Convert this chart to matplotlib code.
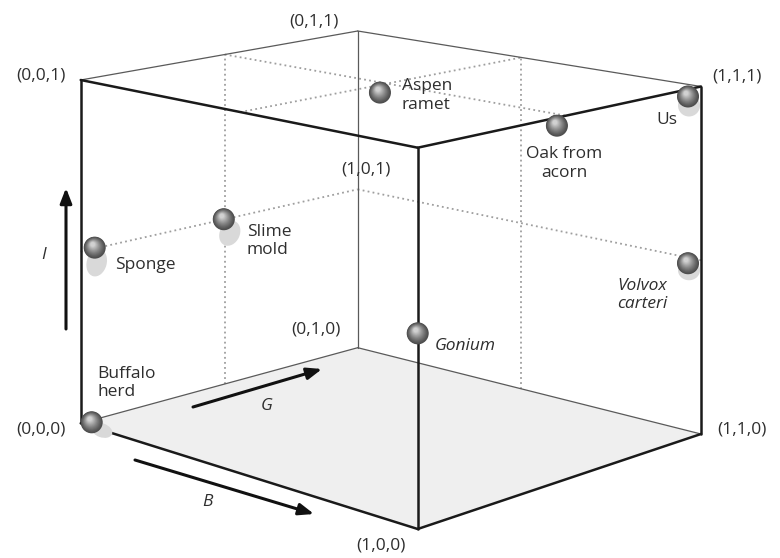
import matplotlib
matplotlib.use("Agg")
import matplotlib.pyplot as plt
from matplotlib.patches import Circle, Ellipse, Polygon

plt.rcParams['font.family'] = ['Open Sans', 'DejaVu Sans']

# organisms placed in the (B, G, I) cube
names = ['Buffalo\nherd', 'Sponge', 'Slime\nmold', 'Aspen\nramet',
         'Oak from\nacorn', 'Us', 'Volvox\ncarteri', 'Gonium']
B = [0, 0, 0, 0.5, 1, 1, 1, 1]
G = [0, 0, 0.5, 0.5, 0.5, 1, 1, 0]
I = [0, 0.5, 0.5, 1, 1, 1, 0.5, 0.5]
italic = [False, False, False, False, False, False, True, True]

# corner labels
corners = [(0, 0, 1), (0, 1, 1), (1, 0, 1), (1, 1, 1),
           (0, 0, 0), (0, 1, 0), (1, 0, 0), (1, 1, 0)]

# dotted guide lines on the back faces and the top
guides = [((0, 0.5, 0), (0, 0.5, 1)), ((0, 0, 0.5), (0, 1, 0.5)),
          ((0.5, 1, 0), (0.5, 1, 1)), ((0, 1, 0.5), (1, 1, 0.5)),
          ((0, 0.5, 1), (1, 0.5, 1)), ((0.5, 0, 1), (0.5, 1, 1))]

# ---- layout: screen position of the four vertical edges (x, y bottom, y top)
frame = {(0, 0): (80.7, 423.3, 80.0), (1, 0): (417.7, 529.0, 147.7),
         (0, 1): (357.7, 347.7, 31.0), (1, 1): (701.0, 434.0, 86.5)}
H0 = frame[(0, 0)][1] - frame[(0, 0)][2]


def proj(b, g, i):
    W = X = Y = 0.0
    for (kb, kg), (x, yb, yt) in frame.items():
        wt = (b if kb else 1 - b) * (g if kg else 1 - g)
        w = H0 / (yb - yt)
        W += wt * w
        X += wt * x * w
        Y += wt * yb * w
    return X / W, Y / W - i * H0 / W


# label offsets (px) and alignment, sphere nudges, shadows
label_off = [(17, -40, 'left'), (34, 13, 'left'), (22, 22, 'left'), (15, 12, 'left'),
             (-2, 48, 'center'), (-34, 33, 'center'), (-84, 35, 'left'), (17, 8, 'left')]
sphere_off = [(11, -1), (14, -4), (-1, 0), (-7, 9), (-9, 10), (-13, 10), (-13, 3), (0, -5)]
shadow = [(10, 8, 22, 14, 20), (2, 15, 20, 28, 15), (6, 14, 20, 26, 25), None,
          None, (1, 9, 22, 22, 0), (1, 7, 22, 20, 0), None]
corner_off = [(-40, -5), (-44, -9), (-52, 22), (36, -10),
              (-40, 6), (-42, -18), (-37, 16), (41, -4)]

fig = plt.figure(figsize=(7.8, 5.58), dpi=100)
ax = fig.add_axes([0, 0, 1, 1])
ax.set_xlim(0, 780)
ax.set_ylim(558, 0)
ax.axis('off')

# floor
floor = [proj(0, 0, 0), proj(1, 0, 0), proj(1, 1, 0), proj(0, 1, 0)]
ax.add_patch(Polygon(floor, closed=True, facecolor='#efefef', edgecolor='none', zorder=0))

for p, q in guides:
    (x1, y1), (x2, y2) = proj(*p), proj(*q)
    ax.plot([x1, x2], [y1, y2], color='#9e9e9e', lw=1.3, ls=(0, (1, 1.8)), zorder=1)

thin = [((0, 0, 1), (0, 1, 1)), ((0, 1, 1), (1, 1, 1)), ((0, 1, 0), (0, 1, 1)),
        ((0, 0, 0), (0, 1, 0)), ((0, 1, 0), (1, 1, 0))]
thick = [((0, 0, 0), (0, 0, 1)), ((1, 0, 0), (1, 0, 1)), ((1, 1, 0), (1, 1, 1)),
         ((0, 0, 1), (1, 0, 1)), ((1, 0, 1), (1, 1, 1)),
         ((0, 0, 0), (1, 0, 0)), ((1, 0, 0), (1, 1, 0))]
for p, q in thin:
    (x1, y1), (x2, y2) = proj(*p), proj(*q)
    ax.plot([x1, x2], [y1, y2], color='#5a5a5a', lw=0.9, zorder=2, solid_capstyle='round')
for p, q in thick:
    (x1, y1), (x2, y2) = proj(*p), proj(*q)
    ax.plot([x1, x2], [y1, y2], color='#1a1a1a', lw=1.8, zorder=3, solid_capstyle='round')


def sphere(cx, cy, r=11):
    n = 18
    for k in range(n):
        t = k / (n - 1)
        g = 0.30 + 0.52 * t ** 1.2
        ax.add_patch(Circle((cx - 0.18 * r * t, cy - 0.30 * r * t), r * (1 - 0.8 * t),
                            facecolor=(g, g, g), edgecolor='none', zorder=6))


for k in range(len(names)):
    px, py = proj(B[k], G[k], I[k])
    sx, sy = px + sphere_off[k][0], py + sphere_off[k][1]
    if shadow[k]:
        dx, dy, w, h, a = shadow[k]
        ax.add_patch(Ellipse((sx + dx, sy + dy), w, h, angle=a,
                             facecolor='#d9d9d9', edgecolor='none', zorder=5))
    sphere(sx, sy)
    lx, ly, ha = label_off[k]
    ax.text(px + lx, py + ly, names[k], ha=ha, va='center', fontsize=12.5,
            color='#2e2e2e', style='italic' if italic[k] else 'normal',
            linespacing=1.2, zorder=7)

for c, (dx, dy) in zip(corners, corner_off):
    x, y = proj(*c)
    ax.text(x + dx, y + dy, '(%d,%d,%d)' % c, ha='center', va='center',
            fontsize=12.5, color='#2e2e2e', zorder=7)

# axis direction arrows
arrow = dict(arrowstyle='-|>,head_length=0.9,head_width=0.35', color='#111111',
             lw=2.2, shrinkA=0, shrinkB=0)
ax.annotate('', xy=(66, 188), xytext=(66, 329), arrowprops=arrow)
ax.annotate('', xy=(322, 369), xytext=(193, 407), arrowprops=arrow)
ax.annotate('', xy=(314, 514), xytext=(135, 460), arrowprops=arrow)
ax.text(44, 255, 'I', style='italic', fontsize=12.5, color='#2e2e2e', ha='center', va='center')
ax.text(267, 406, 'G', style='italic', fontsize=12.5, color='#2e2e2e', ha='center', va='center')
ax.text(207, 502, 'B', style='italic', fontsize=12.5, color='#2e2e2e', ha='center', va='center')

fig.savefig('out.png', dpi=100)
